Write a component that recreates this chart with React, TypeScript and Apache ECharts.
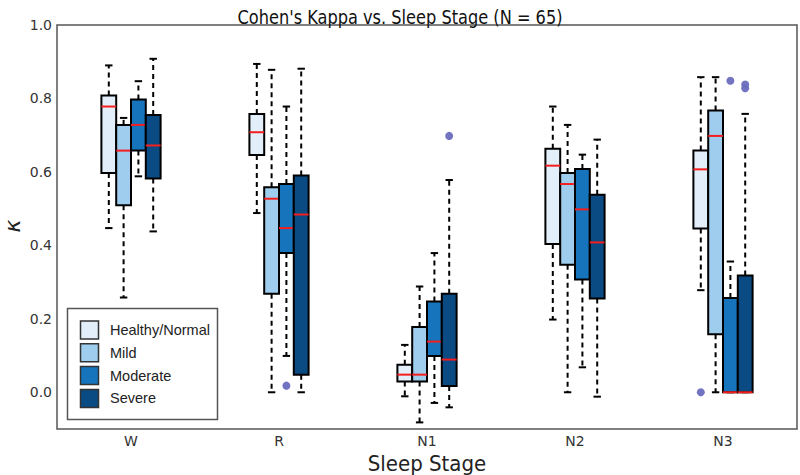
import React, { useEffect, useRef } from "react";
import * as echarts from "echarts";

const STAGES = ["W", "R", "N1", "N2", "N3"];
const GROUPS = ["Healthy/Normal", "Mild", "Moderate", "Severe"];
const COLORS = ["#e2effa", "#9ecdee", "#1674bd", "#0b4b83"];

// per stage: [lower whisker, q1, median, q3, upper whisker]
const HEALTHY = [
  [0.447, 0.597, 0.778, 0.808, 0.89],
  [0.488, 0.646, 0.708, 0.758, 0.894],
  [-0.011, 0.029, 0.048, 0.075, 0.129],
  [0.198, 0.404, 0.617, 0.663, 0.778],
  [0.278, 0.446, 0.607, 0.658, 0.858],
];
const MILD = [
  [0.258, 0.509, 0.658, 0.728, 0.747],
  [0.0, 0.268, 0.527, 0.558, 0.878],
  [-0.082, 0.029, 0.048, 0.178, 0.288],
  [0.0, 0.347, 0.567, 0.597, 0.728],
  [0.0, 0.158, 0.698, 0.767, 0.858],
];
const MODERATE = [
  [0.588, 0.658, 0.728, 0.797, 0.847],
  [0.099, 0.379, 0.447, 0.567, 0.778],
  [-0.029, 0.099, 0.138, 0.247, 0.379],
  [0.068, 0.307, 0.498, 0.608, 0.647],
  [0.0, 0.0, 0.0, 0.257, 0.356],
];
const SEVERE = [
  [0.438, 0.582, 0.672, 0.755, 0.908],
  [0.0, 0.048, 0.484, 0.59, 0.881],
  [-0.041, 0.017, 0.089, 0.268, 0.578],
  [-0.012, 0.255, 0.408, 0.538, 0.688],
  [0.0, 0.0, 0.0, 0.318, 0.758],
];

// outliers: [stage number (1-based), value]
const OUT_HEALTHY = [[5, 0.0]];
const OUT_MILD: number[][] = [];
const OUT_MODERATE = [
  [2, 0.018],
  [5, 0.848],
];
const OUT_SEVERE = [
  [3, 0.698],
  [5, 0.838],
  [5, 0.828],
];

const BOX_SETS = [HEALTHY, MILD, MODERATE, SEVERE];
const OUT_SETS = [OUT_HEALTHY, OUT_MILD, OUT_MODERATE, OUT_SEVERE];
const OFFSETS = [-0.15, -0.05, 0.05, 0.15];
const BOX_W = 0.1;

const TICK_FONT = "'DejaVu Sans', sans-serif";
const COND_FONT = "'DejaVu Sans Condensed', 'Liberation Sans Narrow', 'DejaVu Sans', sans-serif";

function makeRender(offset: number, color: string) {
  return (params: any, api: any) => {
    const xc = api.value(0) + offset;
    const lo = api.value(1);
    const q1 = api.value(2);
    const med = api.value(3);
    const q3 = api.value(4);
    const hi = api.value(5);
    const hw = BOX_W / 2;
    const cw = BOX_W / 4;
    const [xl, yq3] = api.coord([xc - hw, q3]);
    const [xr, yq1] = api.coord([xc + hw, q1]);
    const [xm, ymed] = api.coord([xc, med]);
    const ylo = api.coord([xc, lo])[1];
    const yhi = api.coord([xc, hi])[1];
    const xcl = api.coord([xc - cw, 0])[0];
    const xcr = api.coord([xc + cw, 0])[0];
    const dash = { stroke: "#000", lineWidth: 2, lineDash: [5, 4], fill: null };
    const solid = { stroke: "#000", lineWidth: 2, fill: null };
    return {
      type: "group",
      children: [
        { type: "line", shape: { x1: xm, y1: yq3, x2: xm, y2: yhi }, style: dash },
        { type: "line", shape: { x1: xm, y1: yq1, x2: xm, y2: ylo }, style: dash },
        { type: "line", shape: { x1: xcl, y1: yhi, x2: xcr, y2: yhi }, style: solid },
        { type: "line", shape: { x1: xcl, y1: ylo, x2: xcr, y2: ylo }, style: solid },
        {
          type: "rect",
          shape: { x: xl, y: yq3, width: xr - xl, height: yq1 - yq3 },
          style: { fill: color, stroke: "#000", lineWidth: 2 },
        },
        {
          type: "line",
          shape: { x1: xl, y1: ymed, x2: xr, y2: ymed },
          style: { stroke: "#f51d1d", lineWidth: 2, fill: null },
        },
      ],
    };
  };
}

export default function App() {
  const ref = useRef<HTMLDivElement>(null);
  useEffect(() => {
    if (!ref.current) return;
    const chart = echarts.init(ref.current, undefined, { renderer: "svg" });

    const series: any[] = [];
    BOX_SETS.forEach((set, gi) => {
      series.push({
        type: "custom",
        name: GROUPS[gi],
        renderItem: makeRender(OFFSETS[gi], COLORS[gi]),
        encode: { x: 0, y: [1, 2, 3, 4, 5] },
        data: set.map((d, si) => [si + 1, ...d]),
        z: 2 + gi,
      });
    });
    OUT_SETS.forEach((set, gi) => {
      series.push({
        type: "scatter",
        name: GROUPS[gi] + " outliers",
        symbol: "circle",
        symbolSize: 8,
        itemStyle: { color: "#6a6dbf", opacity: 0.95 },
        data: set.map((d) => [d[0] + OFFSETS[gi], d[1]]),
        z: 10,
      });
    });

    const legendChildren: any[] = [
      {
        type: "rect",
        shape: { x: 67.5, y: 308.5, width: 150, height: 111 },
        style: { fill: "#fff", stroke: "#555", lineWidth: 1.5 },
      },
    ];
    GROUPS.forEach((g, i) => {
      const y = 321 + i * 22.8;
      legendChildren.push({
        type: "rect",
        shape: { x: 80.5, y, width: 18, height: 18 },
        style: { fill: COLORS[i], stroke: "#333", lineWidth: 1.5 },
      });
      legendChildren.push({
        type: "text",
        x: 110,
        y: y + 9,
        style: {
          text: g,
          fill: "#222",
          font: "14.5px 'Liberation Sans', Arial, sans-serif",
          textAlign: "left",
          textVerticalAlign: "middle",
        },
      });
    });

    chart.setOption({
      animation: false,
      backgroundColor: "#fff",
      grid: {
        left: 57,
        right: 3,
        top: 25,
        bottom: 46,
        outerBoundsMode: "none",
        containLabel: false,
        show: true,
        borderColor: "#555",
        borderWidth: 1.5,
        backgroundColor: "#fff",
      },
      xAxis: {
        type: "value",
        min: 0.5,
        max: 5.5,
        interval: 0.5,
        name: "Sleep Stage",
        nameLocation: "middle",
        nameGap: 21,
        nameTextStyle: { fontSize: 22, color: "#222", fontFamily: COND_FONT },
        axisLine: { show: false },
        axisTick: { show: false },
        splitLine: { show: false },
        axisLabel: {
          margin: 5,
          fontSize: 14,
          color: "#333",
          fontFamily: TICK_FONT,
          formatter: (v: number) => (Number.isInteger(v) ? STAGES[v - 1] : ""),
        },
      },
      yAxis: {
        type: "value",
        min: -0.1,
        max: 1.0,
        interval: 0.1,
        axisLine: { show: false },
        axisTick: { show: false },
        splitLine: { show: false },
        axisLabel: {
          margin: 5,
          fontSize: 14,
          color: "#333",
          fontFamily: TICK_FONT,
          formatter: (v: number) => {
            const k = Math.round(v * 10);
            return k >= 0 && k % 2 === 0 ? (k / 10).toFixed(1) : "";
          },
        },
      },
      graphic: [
        {
          type: "text",
          x: 400,
          y: 17,
          scaleX: 0.9,
          style: {
            text: "Cohen's Kappa vs. Sleep Stage (N = 65)",
            fill: "#111",
            font: "20px " + COND_FONT,
            textAlign: "center",
            textVerticalAlign: "middle",
          },
        },
        {
          type: "text",
          x: 12,
          y: 226,
          rotation: Math.PI / 2,
          style: {
            text: "κ",
            fill: "#222",
            font: "italic 22px 'DejaVu Sans', sans-serif",
            textAlign: "center",
            textVerticalAlign: "middle",
          },
        },
        { type: "group", children: legendChildren, z: 100 },
      ],
      series,
    });
    return () => chart.dispose();
  }, []);
  return (
    <div
      ref={ref}
      style={{ position: "fixed", left: 0, top: 0, width: 800, height: 475 }}
    />
  );
}
